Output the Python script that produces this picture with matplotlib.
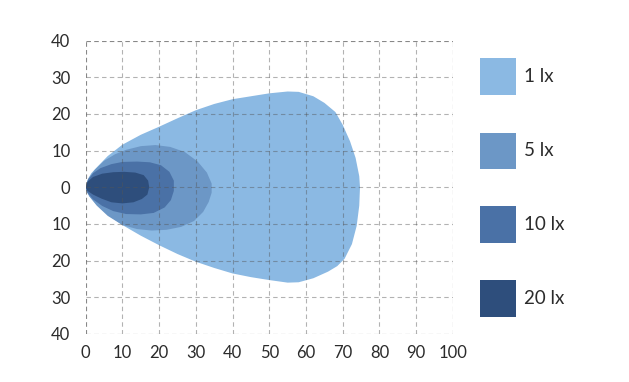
import matplotlib
matplotlib.use("Agg")
import matplotlib.pyplot as plt
from matplotlib.patches import Rectangle

plt.rcParams['font.family'] = ['Lato', 'DejaVu Sans']

# Isolux contours (distance m, lateral m)
lx1_x = [0, 0.5, 1.5, 3.2, 6, 10, 15, 20, 25, 30, 35, 40, 45, 50, 55, 58, 62, 65, 68, 70, 72, 73.5, 74.5, 74.7,
         74.5, 73.8, 72.5, 70.5, 68.5, 66, 62, 58, 55, 50, 45, 40, 35, 30, 25, 20, 15, 10, 6, 3, 1, 0.2]
lx1_y = [0, 2, 3.8, 5.6, 8.5, 11.6, 14.3, 16.5, 18.8, 21, 22.7, 24, 24.8, 25.6, 26.1, 26, 24.8, 23, 20.5, 17, 12.5, 8, 3, 0,
         -5, -10.5, -15.5, -19.5, -21.5, -23, -24.8, -25.9, -26, -25.3, -24.5, -23.5, -22, -20.3, -18.2, -15.8, -13.2, -10.3, -7.5, -4.8, -2.5, -1]

lx5_x = [0, 0.8, 2.5, 5, 8, 11, 15, 19, 23, 27, 30.5, 33, 34.3, 34.3, 33.5, 32, 29.5, 26, 22, 18, 14, 10, 6, 3, 1, 0.2]
lx5_y = [0, 2.5, 4.8, 7.2, 9, 10.2, 11.2, 11.5, 11, 9.6, 7, 4, 1, -1.5, -4, -6.7, -9.2, -10.8, -11.6, -11.8, -11.4, -10.3, -7.8, -5, -2.5, -1]

lx10_x = [0, 0.6, 2, 4, 7, 10, 14, 17.5, 20.5, 22.8, 24, 24, 23.2, 21.5, 18.5, 15, 11, 7.5, 4.5, 2, 0.5]
lx10_y = [0, 2, 3.8, 5.2, 6.3, 6.9, 7, 6.8, 6, 4.2, 1.8, -1, -3.5, -5.5, -7, -7.4, -7.3, -6.5, -5.1, -3.3, -1.5]

lx20_x = [0, 0.5, 2, 4.5, 7.5, 10.5, 13.5, 15.8, 17, 17.3, 16.8, 15.3, 13, 10, 7, 4.3, 2, 0.5]
lx20_y = [0, 1.5, 2.8, 3.7, 4.1, 4.2, 4.0, 3.3, 1.8, 0, -2, -3.2, -4.1, -4.4, -4.1, -3.1, -2, -1]

labels = ['1 lx', '5 lx', '10 lx', '20 lx']
colors = ['#8bb9e3', '#6c97c6', '#4a71a6', '#2e4e7c']

x_ticks = [0, 10, 20, 30, 40, 50, 60, 70, 80, 90, 100]
y_ticks = [-40, -30, -20, -10, 0, 10, 20, 30, 40]
y_tick_labels = ['40', '30', '20', '10', '0', '10', '20', '30', '40']

fig = plt.figure(figsize=(6.29, 3.82), dpi=100)
ax = fig.add_axes([85.7 / 629, 1 - 334 / 382, 367.2 / 629, 293.5 / 382])

shapes = [(lx1_x, lx1_y), (lx5_x, lx5_y), (lx10_x, lx10_y), (lx20_x, lx20_y)]
for (xs, ys), c in zip(shapes, colors):
    ax.fill(xs, ys, color=c, lw=0, zorder=1)

ax.set_xlim(0, 100)
ax.set_ylim(-40, 40)
ax.set_xticks(x_ticks)
ax.set_yticks(y_ticks)
ax.set_yticklabels(y_tick_labels)
ax.tick_params(length=0, labelsize=12, labelcolor='#2b2b2b')
ax.tick_params(axis='y', pad=11)
ax.tick_params(axis='x', pad=8)
gkw = dict(color='#555555', alpha=0.45, linestyle=(0, (4, 3)), linewidth=0.8, zorder=2)
ax.grid(True, **gkw)
ax.set_axisbelow(False)
for s in ax.spines.values():
    s.set_visible(False)
for xv in [0, 100]:
    ax.axvline(xv, **gkw)
for yv in [-40, 40]:
    ax.axhline(yv, **gkw)

W, H = 629, 382
centers = [76.5, 151, 224.5, 298]
for lab, c, cy in zip(labels, colors, centers):
    fig.add_artist(Rectangle((480 / W, 1 - (cy + 18.5) / H), 36 / W, 37 / H,
                             transform=fig.transFigure, color=c, lw=0))
    fig.text(524 / W, 1 - cy / H, lab, fontsize=13.5, color='#2b2b2b', va='center', ha='left')

fig.savefig('out.png', dpi=100)
